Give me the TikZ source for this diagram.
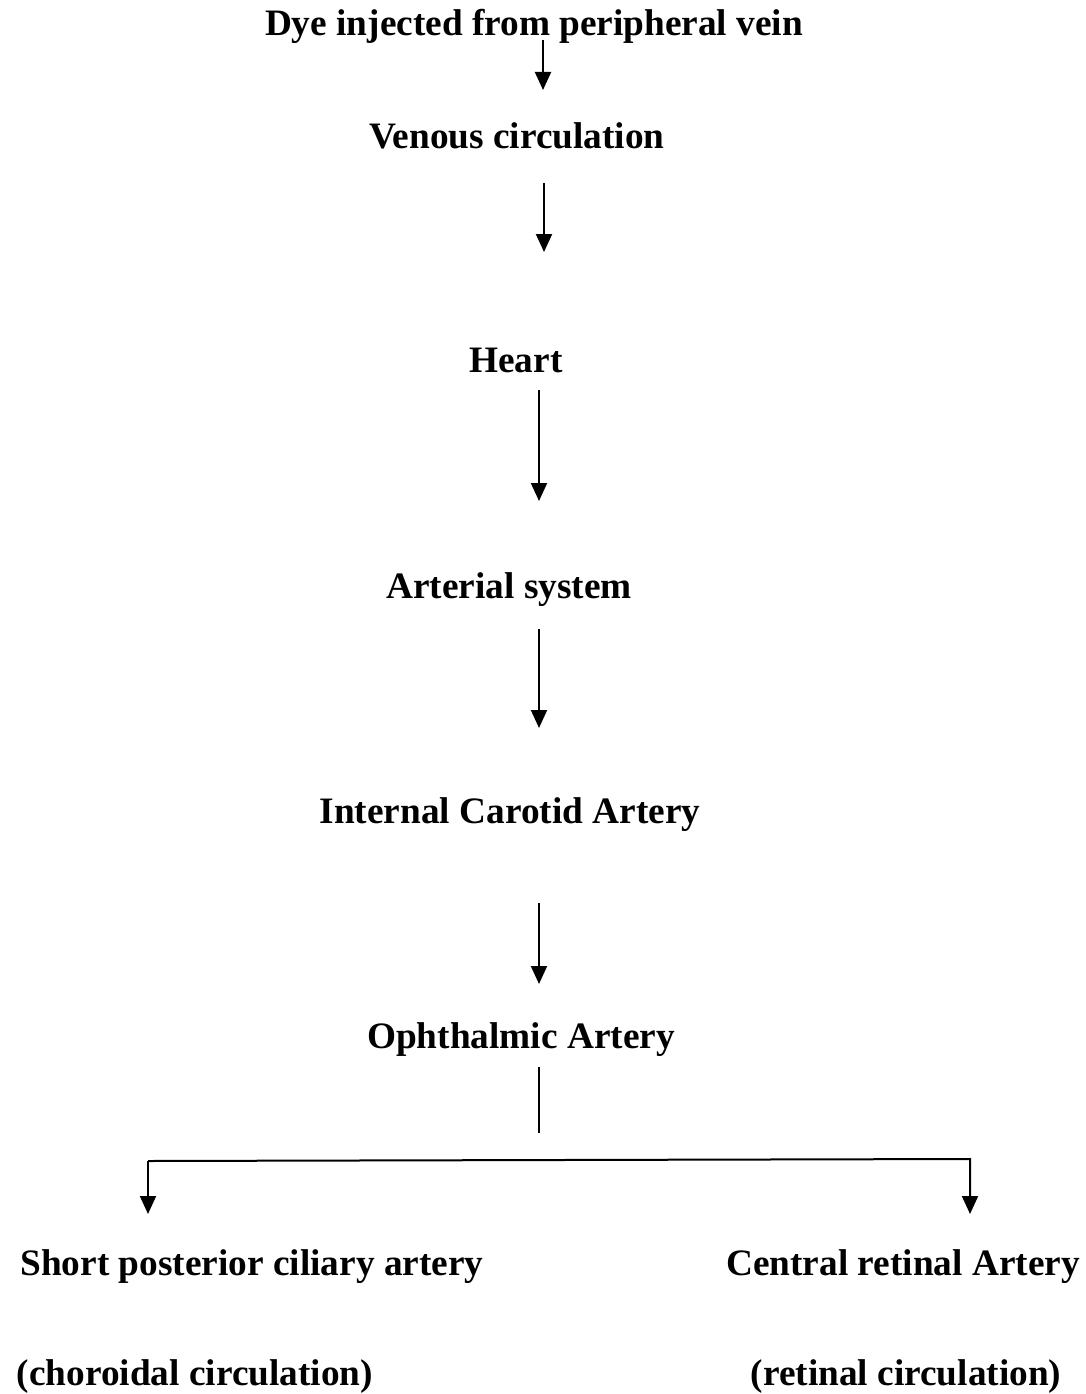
\documentclass[tikz,border=0pt]{standalone}
\usepackage{fontspec}
\setmainfont{Liberation Serif}
\usetikzlibrary{arrows.meta}
\tikzset{
  lbl/.style={font=\fontsize{37.3}{41}\selectfont\bfseries, inner sep=0pt, anchor=base},
  arr/.style={line width=2pt, -{Triangle[width=16pt,length=18pt]}},
  ln/.style={line width=2pt}
}
\begin{document}
\begin{tikzpicture}[x=1pt,y=-1pt]
\useasboundingbox (0,0) rectangle (1086,1394);
\node[lbl] (dye) at (534,36) {Dye injected from peripheral vein};
\node[lbl] (ven) at (517,148) {Venous circulation};
\node[lbl] (heart) at (516,372) {Heart};
\node[lbl] (art) at (509,598) {Arterial system};
\node[lbl] (ica) at (510,823) {Internal Carotid Artery};
\node[lbl] (oph) at (521,1048) {Ophthalmic Artery};
\node[lbl] (spc) at (252,1275) {Short posterior ciliary artery};
\node[lbl] (cra) at (903,1275) {Central retinal Artery};
\node[lbl] (cho) at (195,1385) {(choroidal circulation)};
\node[lbl] (ret) at (906,1385) {(retinal circulation)};
\coordinate (a1s) at (543,40); \coordinate (a1e) at (543,90);
\coordinate (a2s) at (544,183); \coordinate (a2e) at (544,252);
\coordinate (a3s) at (539,390); \coordinate (a3e) at (539,501);
\coordinate (a4s) at (539,629); \coordinate (a4e) at (539,728);
\coordinate (a5s) at (539,903); \coordinate (a5e) at (539,984);
\coordinate (ts) at (539,1067); \coordinate (te) at (539,1133);
\coordinate (bl) at (148,1161); \coordinate (br) at (970,1159);
\coordinate (blt) at (148,1214); \coordinate (brt) at (970,1214);
\draw[arr] (a1s) -- (a1e);
\draw[arr] (a2s) -- (a2e);
\draw[arr] (a3s) -- (a3e);
\draw[arr] (a4s) -- (a4e);
\draw[arr] (a5s) -- (a5e);
\draw[ln] (ts) -- (te);
\draw[arr] (bl) -- (br) -- (brt);
\draw[arr] (bl) -- (blt);
\end{tikzpicture}
\end{document}
